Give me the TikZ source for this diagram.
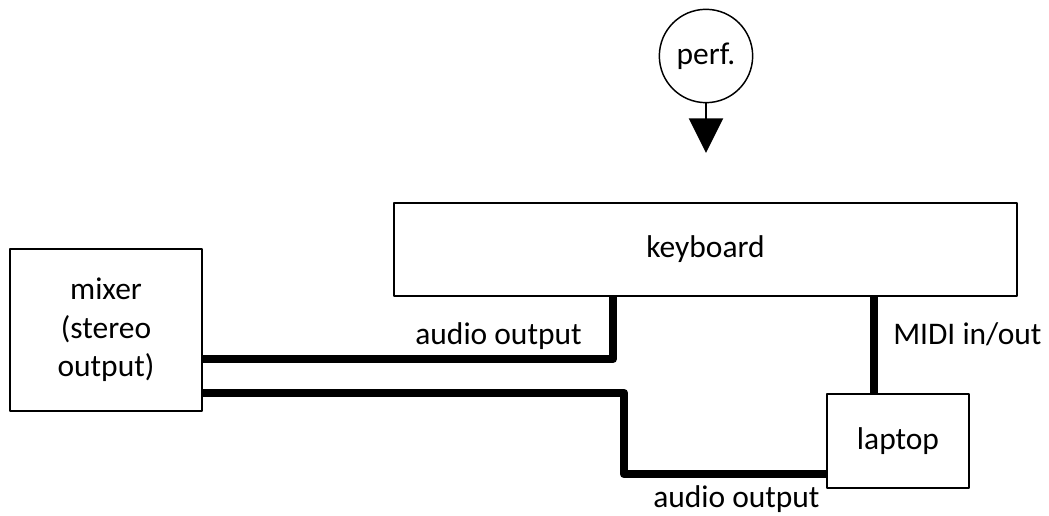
\documentclass[tikz,border=0pt]{standalone}
\usepackage{fontspec}
\setmainfont{Carlito}
\usetikzlibrary{arrows.meta}

\begin{document}
\begin{tikzpicture}[x=0.75pt,y=-0.75pt,line join=round,
  box/.style={draw,line width=1.1pt,inner sep=0pt,align=center,font=\fontsize{23.6}{29}\selectfont},
  wire/.style={line width=6.3pt,line join=round},
  lbl/.style={inner sep=0pt,font=\fontsize{23.6}{29}\selectfont}]
\useasboundingbox (0,0) rectangle (1049,516);
\node[box,circle,minimum size=70pt] (perf) at (706,56) {perf.};
\coordinate (tip) at (706,153);
\draw[-{Triangle[length=26pt,width=25.5pt]},line width=1.8pt] (perf.south) -- (tip);
\node[box,minimum width=467pt,minimum height=70pt] (keyboard) at (705.5,249.5) {keyboard};
\node[box,minimum width=144pt,minimum height=121.5pt] (mixer) at (106,330) {mixer\\(stereo\\output)};
\node[box,minimum width=106.5pt,minimum height=70.5pt] (laptop) at (898,441) {laptop};
\coordinate (w1) at (613,359);
\coordinate (w2a) at (624,393);
\coordinate (w2b) at (624,474);
\coordinate (midi) at (874,0);
\draw[wire] (mixer.east |- w1) -- (w1) -- (keyboard.south -| w1);
\draw[wire] (mixer.east |- w2a) -- (w2a) -- (w2b) -- (laptop.west |- w2b);
\draw[wire] (keyboard.south -| midi) -- (laptop.north -| midi);
\node[lbl,anchor=base east] (out1) at (582,345) {audio output};
\node[lbl,anchor=base west] (midilbl) at (893,345) {MIDI in/out};
\node[lbl,anchor=base west] (out2) at (653,507) {audio output};
\end{tikzpicture}
\end{document}
